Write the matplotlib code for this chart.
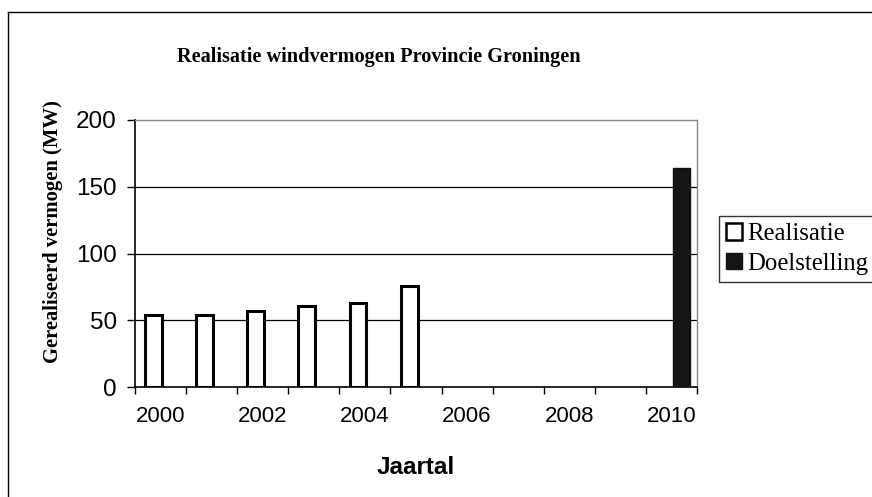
import numpy as np
import matplotlib
matplotlib.use("Agg")
import matplotlib.pyplot as plt
from matplotlib.lines import Line2D
from matplotlib.patches import Patch

years = [2000, 2001, 2002, 2003, 2004, 2005, 2006, 2007, 2008, 2009, 2010]
realisatie = [54, 54, 57, 61, 63, 76, 0, 0, 0, 0, 0]
doelstelling = [0, 0, 0, 0, 0, 0, 0, 0, 0, 0, 164]
yticks = [0, 50, 100, 150, 200]
title = "Realisatie windvermogen Provincie Groningen"
ylabel = "Gerealiseerd vermogen (MW)"
xlabel = "Jaartal"

W, H = 872, 497
fig = plt.figure(figsize=(W / 100, H / 100), dpi=100)
ax = fig.add_axes([135 / W, 1 - 387 / H, (697 - 135) / W, (387 - 120) / H])

x = np.arange(len(years))
bw = 0.33
real = np.array(realisatie, dtype=float)
doel = np.array(doelstelling, dtype=float)
mr = real > 0
md = doel > 0
ax.bar(x[mr] - bw + 0.03, real[mr], width=bw, align='edge', facecolor='white',
       edgecolor='black', linewidth=2.2, zorder=3)
ax.bar(x[md] + 0.03, doel[md], width=bw, align='edge', facecolor='#151515',
       edgecolor='#111111', linewidth=1.0, zorder=3)

ax.set_xlim(-0.5, len(years) - 0.5)
ax.set_ylim(0, 200)
ax.set_yticks(yticks)
ax.set_yticklabels([str(v) for v in yticks], fontfamily='Liberation Sans', fontsize=17.5)
for v in yticks[1:-1]:
    ax.axhline(v, color='black', linewidth=0.9, zorder=1)

ax.set_xticks(np.arange(len(years) + 1) - 0.5)
ax.set_xticklabels([])
ax.set_xticks(x[::2], minor=True)
ax.set_xticklabels([str(y) for y in years[::2]], minor=True,
                   fontfamily='Liberation Sans', fontsize=16)
ax.tick_params(axis='x', which='major', direction='out', length=5, width=1)
ax.tick_params(axis='x', which='minor', length=0, pad=14)
ax.tick_params(axis='y', direction='out', length=6, width=1, pad=7)

ax.spines['left'].set_linewidth(1.2)
ax.spines['bottom'].set_linewidth(1.2)
for s in ['top', 'right']:
    ax.spines[s].set_color('#888888')
    ax.spines[s].set_linewidth(1.0)
    ax.spines[s].set_linestyle((0, (2, 1)))

fig.text(53 / W, 1 - 232 / H, ylabel, rotation=90, ha='center', va='center',
         fontfamily='Liberation Serif', fontweight='bold', fontsize=14.9)
fig.text(416 / W, 1 - 467 / H, xlabel, ha='center', va='center',
         fontfamily='Liberation Sans', fontweight='bold', fontsize=17.5)

fig.text(379 / W, 1 - 57 / H, title, ha='center', va='center',
         fontfamily='Liberation Serif', fontweight='bold', fontsize=14.6)

handles = [Patch(facecolor='white', edgecolor='black', linewidth=1.8, label='Realisatie'),
           Patch(facecolor='#151515', edgecolor='#111111', label='Doelstelling')]
leg = fig.legend(handles=handles, loc='upper left', bbox_to_anchor=(719 / W, 1 - 216 / H),
                 prop={'family': 'Liberation Serif', 'size': 17.8}, frameon=True,
                 fancybox=False, borderpad=0.3, handlelength=0.65, handleheight=0.65,
                 handletextpad=0.2, labelspacing=0.3, borderaxespad=0)
leg.get_frame().set_edgecolor('black')
leg.get_frame().set_linewidth(1.0)

fig.add_artist(Line2D([8 / W, 8 / W], [0, 1 - 12 / H], color='black', linewidth=1.0))
fig.add_artist(Line2D([8 / W, 1], [1 - 12 / H, 1 - 12 / H], color='black', linewidth=1.0))

fig.savefig('out.png', dpi=100)
